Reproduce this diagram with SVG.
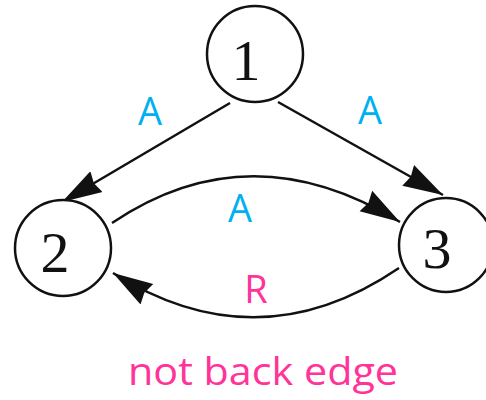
<svg xmlns="http://www.w3.org/2000/svg" width="486" height="400" viewBox="0 0 486 400">
<style>
.node{fill:#fff;stroke:#111;stroke-width:2.5}
.num{font-family:"Liberation Serif",serif;font-size:58px;fill:#111;text-anchor:middle}
.edge{fill:none;stroke:#111;stroke-width:2.5;marker-end:url(#ah)}
.lblA{font-family:"Open Sans","Liberation Sans",sans-serif;font-size:38px;fill:#00B0F0;text-anchor:middle}
.lblR{font-family:"Open Sans","Liberation Sans",sans-serif;font-size:38px;fill:#FF3399;text-anchor:middle}
</style>
<defs>
<marker id="ah" markerUnits="userSpaceOnUse" markerWidth="44" markerHeight="26" refX="40" refY="13" orient="auto">
<path d="M0,1 L40,13 L0,25 L3,13 z" fill="#111"/>
</marker>
</defs>
<rect width="486" height="400" fill="#fff"/>
<g id="connectors">
<path class="edge" d="M230,103 L62,202"/>
<path class="edge" d="M278,102 L443,195"/>
<path class="edge" d="M112,223 Q250,130 400,222"/>
<path class="edge" d="M399,268 Q258,364 113,273"/>
</g>
<g id="node1">
<circle class="node" cx="255" cy="54" r="48"/>
<text class="num" x="246" y="80">1</text>
</g>
<g id="node2">
<circle class="node" cx="63" cy="248" r="48"/>
<text class="num" x="55" y="272">2</text>
</g>
<g id="node3">
<circle class="node" cx="446" cy="245" r="47"/>
<text class="num" x="437" y="268">3</text>
</g>
<g id="labels">
<text class="lblA" x="150" y="125">A</text>
<text class="lblA" x="370" y="124">A</text>
<text class="lblA" x="240" y="222">A</text>
<text class="lblR" x="256" y="303">R</text>
<text x="263" y="385" font-family="Open Sans, Liberation Sans, sans-serif" font-size="38" fill="#FF3399" text-anchor="middle" textLength="270" lengthAdjust="spacingAndGlyphs">not back edge</text>
</g>
</svg>
